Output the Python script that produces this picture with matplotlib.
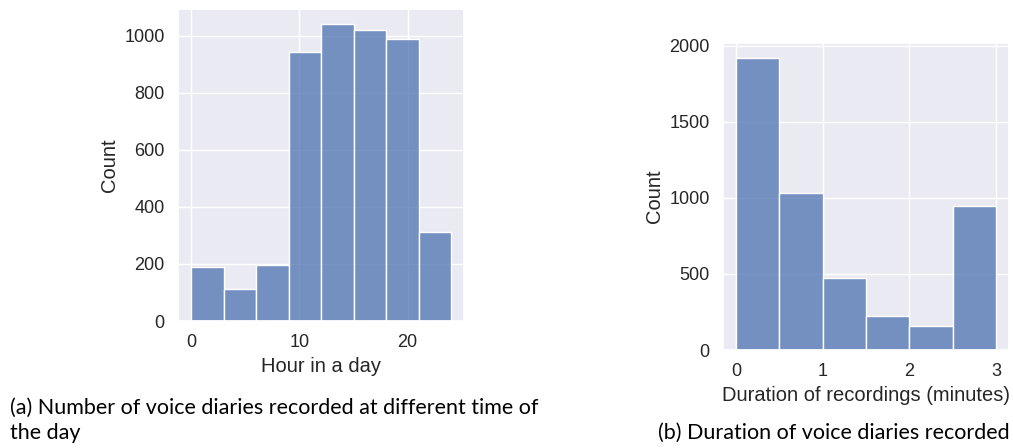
import matplotlib
matplotlib.use("Agg")
import matplotlib.pyplot as plt
import seaborn as sns
import numpy as np

# histogram counts
hour_edges = [0, 3, 6, 9, 12, 15, 18, 21, 24]
hour_counts = [190, 112, 196, 945, 1042, 1020, 988, 313]

dur_edges = [0, 0.5, 1.0, 1.5, 2.0, 2.5, 3.0]
dur_counts = [1923, 1032, 475, 223, 155, 947]

sns.set_theme(style="darkgrid")
plt.rcParams["font.family"] = ["Liberation Sans", "DejaVu Sans"]
plt.rcParams["axes.labelsize"] = 14.5
plt.rcParams["xtick.labelsize"] = 13
plt.rcParams["ytick.labelsize"] = 13

W, H = 1013, 448
fig = plt.figure(figsize=(W / 100, H / 100), dpi=100)


def px_axes(x0, y0, x1, y1):
    return fig.add_axes([x0 / W, 1 - y1 / H, (x1 - x0) / W, (y1 - y0) / H])


ax1 = px_axes(178, 9, 464, 321)
sns.histplot(x=hour_edges[:-1], weights=hour_counts, bins=hour_edges, ax=ax1)
ax1.set_xlabel("Hour in a day")
ax1.set_ylabel("Count")

ax2 = px_axes(723, 43, 1009, 350)
sns.histplot(x=dur_edges[:-1], weights=dur_counts, bins=dur_edges, ax=ax2)
ax2.set_xlabel("Duration of recordings (minutes)")
ax2.set_ylabel("Count")
ax2.set_xticks([0, 1, 2, 3])

cap = dict(fontsize=15.5, family=["Lato", "DejaVu Sans"], color="black")
fig.text(10 / W, 1 - 414 / H, "(a) Number of voice diaries recorded at different time of", **cap)
fig.text(10 / W, 1 - 439 / H, "the day", **cap)
fig.text(1010 / W, 1 - 439 / H, "(b) Duration of voice diaries recorded", ha="right", **cap)

fig.savefig("out.png", dpi=100)
